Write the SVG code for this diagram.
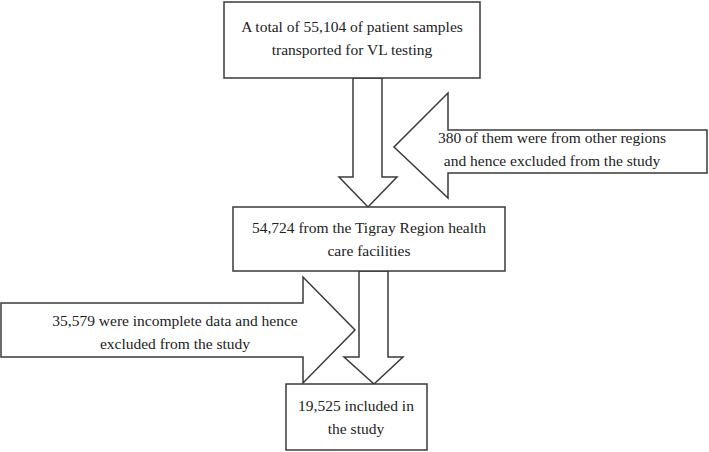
<svg xmlns="http://www.w3.org/2000/svg" width="709" height="452" viewBox="0 0 709 452">
<style>
.box{fill:#fff;stroke:#3a3a3a;stroke-width:1.5}
.arr{fill:#fff;stroke:#3a3a3a;stroke-width:1.5;stroke-linejoin:miter}
text{font-family:"Liberation Serif","Times New Roman",serif;font-size:15.5px;fill:#222;text-anchor:middle}
</style>
<rect width="709" height="452" fill="#fff"/>
<g id="connectors">
<polygon class="arr" points="353,78 382,78 382,177 397,177 368,207 339,177 353,177"/>
<polygon class="arr" points="707,130 707,173 448,173 448,198 394,147 448,93 448,130"/>
<polygon class="arr" points="1,303 303,303 303,277 355,330 303,383 303,357 1,357"/>
<polygon class="arr" points="359,271 388,271 388,357 403,357 374,384 344,357 359,357"/>
</g>
<g id="n1">
<rect class="box" x="224" y="2" width="256" height="76"/>
<text x="352" y="32">A total of 55,104 of patient samples</text>
<text x="352" y="55">transported for VL testing</text>
</g>
<g id="n2">
<rect class="box" x="233" y="207" width="272" height="64"/>
<text x="369" y="233">54,724 from the Tigray Region health</text>
<text x="369" y="256">care facilities</text>
</g>
<g id="n3">
<rect class="box" x="286" y="384" width="141" height="66"/>
<text x="356" y="411">19,525 included in</text>
<text x="356" y="434">the study</text>
</g>
<g id="e1">
<text x="552" y="143">380 of them were from other regions</text>
<text x="552" y="166">and hence excluded from the study</text>
</g>
<g id="e2">
<text x="175" y="326">35,579 were incomplete data and hence</text>
<text x="175" y="349">excluded from the study</text>
</g>
</svg>
